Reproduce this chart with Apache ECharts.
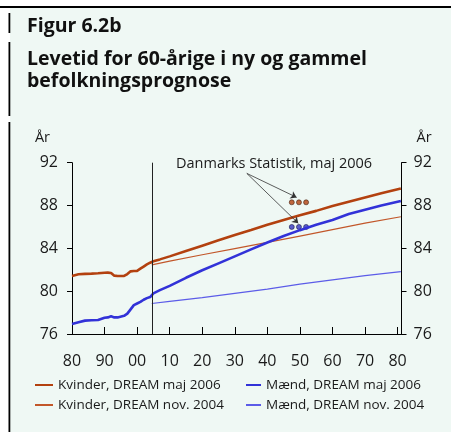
<!DOCTYPE html>
<html>
<head>
<meta charset="utf-8">
<script src="https://cdn.jsdelivr.net/npm/echarts@6/dist/echarts.min.js"></script>
<style>
  html, body { margin: 0; padding: 0; background: #fff; }
  #chart { width: 451px; height: 432px; }
</style>
</head>
<body>
<div id="chart"></div>
<script>
var xTickYears = [1980, 1990, 2000, 2010, 2020, 2030, 2040, 2050, 2060, 2070, 2080];
var yTicks = [76, 80, 84, 88, 92];

var years2006 = [1980, 1982, 1984, 1986, 1988, 1990, 1991, 1992, 1993, 1994, 1996, 1997, 1998, 1999, 2000, 2001, 2002, 2003, 2004, 2005, 2007,
                 2010, 2015, 2020, 2025, 2030, 2035, 2040, 2045, 2050, 2055, 2060, 2065, 2070, 2075, 2081];
var kvinder2006 = [81.42, 81.58, 81.62, 81.64, 81.67, 81.72, 81.73, 81.7, 81.45, 81.42, 81.42, 81.6, 81.85, 81.88, 81.9, 82.1, 82.3, 82.5, 82.66, 82.8, 82.97,
                   83.25, 83.75, 84.25, 84.75, 85.25, 85.72, 86.2, 86.65, 87.1, 87.5, 87.95, 88.35, 88.75, 89.15, 89.6];
var maend2006 = [76.93, 77.1, 77.25, 77.28, 77.31, 77.52, 77.55, 77.65, 77.55, 77.55, 77.7, 77.9, 78.3, 78.7, 78.85, 79.0, 79.2, 79.35, 79.45, 79.8, 80.1,
                 80.5, 81.25, 81.95, 82.6, 83.25, 83.9, 84.55, 85.15, 85.7, 86.2, 86.65, 87.2, 87.6, 88.0, 88.42];

var years2004 = [2004.5, 2010, 2020, 2030, 2040, 2050, 2060, 2070, 2081];
var kvinder2004 = [82.45, 82.8, 83.4, 83.98, 84.55, 85.15, 85.75, 86.35, 86.95];
var maend2004 = [78.85, 79.05, 79.4, 79.8, 80.2, 80.65, 81.05, 81.45, 81.82];

var dstYears = [2047.5, 2049.7, 2051.9];
var dstKvinder = [88.3, 88.3, 88.3];
var dstMaend = [86.0, 86.0, 86.0];

var skilleAar = 2004.5;

var font = "'Open Sans', 'Noto Sans', sans-serif";
var txt = '#1a1a1a';

function pairs(xs, ys) {
    return xs.map(function (x, i) { return [x, ys[i]]; });
}

var chart = echarts.init(document.getElementById('chart'));

// legend: kun streg, ingen cirkel
var legendBase = {
    top: 378, orient: 'vertical', selectedMode: false, padding: 0,
    itemHeight: 10, itemGap: 6,
    itemStyle: { color: 'transparent', borderColor: 'transparent', borderWidth: 0 },
    textStyle: { fontFamily: font, fontSize: 13.5, color: txt, lineHeight: 14 }
};

var option = {
    backgroundColor: '#fff',
    animation: false,
    title: {
        text: 'Figur 6.2b',
        subtext: 'Levetid for 60-årige i ny og gammel\nbefolkningsprognose',
        left: 27,
        top: 15,
        padding: 0,
        itemGap: 11,
        textStyle: { fontFamily: font, fontSize: 19.5, fontWeight: 'bold', color: '#111', lineHeight: 22 },
        subtextStyle: { fontFamily: font, fontSize: 19.5, fontWeight: 'bold', color: '#111', lineHeight: 22 }
    },
    graphic: [
        { type: 'rect', z: -10, shape: { x: 10, y: 8, width: 441, height: 424 }, style: { fill: '#eff8f4' } },
        { type: 'rect', shape: { x: 0, y: 6, width: 451, height: 2 }, style: { fill: '#000' } },
        { type: 'rect', shape: { x: 8.5, y: 13, width: 1.8, height: 20 }, style: { fill: '#000' } },
        { type: 'rect', shape: { x: 8.5, y: 42, width: 1.8, height: 74 }, style: { fill: '#000' } },
        { type: 'rect', shape: { x: 8.5, y: 122, width: 1.8, height: 310 }, style: { fill: '#000' } },
        {
            type: 'text',
            style: { text: 'Danmarks Statistik, maj 2006', x: 176, y: 164, verticalAlign: 'middle', font: '14.5px ' + font, fill: txt }
        }
    ],
    legend: [
        Object.assign({}, legendBase, {
            left: 34, itemWidth: 18,
            data: ['Kvinder, DREAM maj 2006', 'Kvinder, DREAM nov. 2004']
        }),
        Object.assign({}, legendBase, {
            left: 245, itemWidth: 15,
            data: ['Mænd, DREAM maj 2006', 'Mænd, DREAM nov. 2004']
        })
    ],
    grid: { left: 72, right: 49.5, top: 162.7, bottom: 98 },
    xAxis: {
        type: 'value', min: 1980, max: 2081.2, interval: 10,
        axisLine: { lineStyle: { color: '#000', width: 1 } },
        axisTick: { inside: true, length: 7, lineStyle: { color: '#000' } },
        splitLine: { show: false },
        axisLabel: {
            fontFamily: font, fontSize: 16, color: txt, margin: 19,
            formatter: function (v) {
                return xTickYears.indexOf(v) >= 0 ? String(v).slice(2) : '';
            }
        }
    },
    yAxis: [
        {
            type: 'value', position: 'left', min: yTicks[0], max: yTicks[yTicks.length - 1], interval: 4,
            name: 'År', nameLocation: 'end', nameGap: 17,
            nameTextStyle: { fontFamily: font, fontSize: 14.5, color: txt, align: 'right', padding: [0, 22, 0, 0] },
            axisLine: { show: true, lineStyle: { color: '#000', width: 1 } },
            axisTick: { show: true, length: 5, lineStyle: { color: '#000' } },
            splitLine: { show: false },
            axisLabel: { fontFamily: font, fontSize: 16, color: txt, margin: 14 }
        },
        {
            type: 'value', position: 'right', min: yTicks[0], max: yTicks[yTicks.length - 1], interval: 4,
            name: 'År', nameLocation: 'end', nameGap: 17,
            nameTextStyle: { fontFamily: font, fontSize: 14.5, color: txt, align: 'left', padding: [0, 0, 0, 15] },
            axisLine: { show: true, lineStyle: { color: '#000', width: 1 } },
            axisTick: { show: true, length: 5, lineStyle: { color: '#000' } },
            splitLine: { show: false },
            axisLabel: { fontFamily: font, fontSize: 16, color: txt, margin: 12 }
        }
    ],
    series: [
        {
            name: 'Kvinder, DREAM nov. 2004', type: 'line', symbol: 'none',
            color: '#c2572a', lineStyle: { width: 1.2 },
            data: pairs(years2004, kvinder2004)
        },
        {
            name: 'Mænd, DREAM nov. 2004', type: 'line', symbol: 'none',
            color: '#5c5ce8', lineStyle: { width: 1.2 },
            data: pairs(years2004, maend2004)
        },
        {
            name: 'Kvinder, DREAM maj 2006', type: 'line', symbol: 'none',
            color: '#b3410f', lineStyle: { width: 2.6 },
            data: pairs(years2006, kvinder2006),
            markLine: {
                silent: true, symbol: ['none', 'none'], label: { show: false },
                lineStyle: { color: '#222', width: 1, type: 'solid' },
                data: [{ xAxis: skilleAar }]
            }
        },
        {
            name: 'Mænd, DREAM maj 2006', type: 'line', symbol: 'none',
            color: '#3232d8', lineStyle: { width: 2.6 },
            data: pairs(years2006, maend2006)
        },
        {
            name: 'DST kvinder', type: 'scatter', symbolSize: 5,
            itemStyle: { color: '#b3410f', borderColor: '#3a1a0a', borderWidth: 0.7 },
            data: pairs(dstYears, dstKvinder),
            markLine: {
                silent: true, symbol: ['none', 'arrow'], symbolSize: 6, label: { show: false },
                lineStyle: { color: '#333', width: 0.8, type: 'solid' },
                data: [
                    [{ coord: [2033.7, 91.0] }, { coord: [2049.0, 88.76] }],
                    [{ coord: [2033.7, 91.0] }, { coord: [2049.5, 86.34] }]
                ]
            }
        },
        {
            name: 'DST mænd', type: 'scatter', symbolSize: 5,
            itemStyle: { color: '#3535c0', borderColor: '#101040', borderWidth: 0.7 },
            data: pairs(dstYears, dstMaend)
        }
    ]
};

chart.setOption(option);
</script>
</body>
</html>
